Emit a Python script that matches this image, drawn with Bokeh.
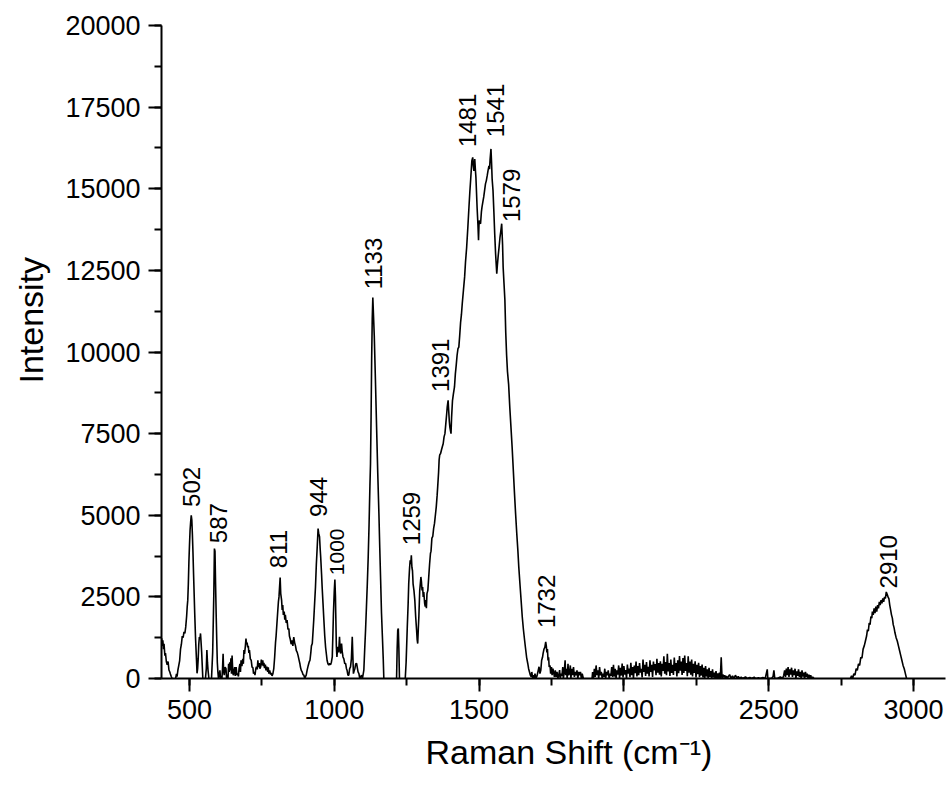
import numpy as np
from bokeh.plotting import figure
from bokeh.models import Range1d, SingleIntervalTicker, Title, ColumnDataSource, BasicTickFormatter
from bokeh.embed import file_html
from bokeh.resources import INLINE
from bokeh.core.properties import value

# ---------------- data (Raman shift [cm-1], intensity) ----------------
seg_400_800 = [
    (402, 1150), (404, 1230), (406, 1000), (408, 1170), (410, 900), (412, 1060), (415, 700), (417, 780),
    (420, 520), (423, 420), (426, 520), (429, 260), (432, 200), (434, 140), (437, 60), (440, 0), (446, -150),
    (452, 0), (455, 140), (457, 60), (460, 260), (463, 400), (466, 550), (469, 900), (472, 1050), (475, 1300),
    (478, 1250), (481, 1430), (484, 1380), (487, 1580), (490, 1900), (492, 2190), (494, 2400), (496, 2900),
    (498, 3600), (500, 4100), (502, 4550), (504, 4800), (506, 5000), (508, 4850), (510, 4400), (512, 3850),
    (514, 3200), (516, 2600), (518, 2000), (521, 1200), (524, 600), (526, 160), (528, 300), (530, 600),
    (532, 1050), (534, 1270), (536, 1200), (538, 1380), (540, 1100), (542, 800), (544, 400), (546, 0),
    (550, -150), (555, 0), (558, 300), (560, 870), (562, 500), (564, 250), (567, 0), (572, -150), (576, 0),
    (578, 400), (580, 800), (582, 1700), (584, 2600), (586, 3980), (588, 3900), (590, 2900), (592, 1990),
    (594, 1200), (596, 500), (598, 200), (600, 0), (603, 150), (605, 250), (607, 0), (610, 80), (612, 0),
    (614, 300), (616, 760), (618, 200), (620, 100), (623, 350), (626, 300), (628, 0), (631, 120), (633, 0),
    (635, 450), (637, 200), (639, 500), (641, 250), (643, 620), (645, 150), (647, 700), (649, 300), (651, 100),
    (653, 180), (656, 350), (658, 80), (661, 350), (664, 100), (667, 160), (669, 60), (671, 300), (674, 450),
    (676, 200), (678, 560), (681, 380), (684, 600), (686, 450), (688, 870), (690, 750), (693, 1000), (695, 1220),
    (697, 1050), (699, 1100), (701, 950), (703, 1000), (705, 780), (707, 870), (710, 600), (713, 560), (716, 350),
    (719, 330), (721, 150), (724, 200), (726, 100), (729, 300), (731, 360), (734, 280), (736, 560), (738, 350),
    (741, 470), (743, 300), (746, 360), (748, 580), (750, 400), (753, 560), (755, 380), (757, 480), (759, 320),
    (762, 430), (764, 250), (767, 360), (770, 200), (772, 340), (774, 150), (777, 250), (780, 120), (782, 170),
    (785, 80), (788, 150), (791, 300), (794, 650), (797, 1100), (799, 1300),
]
seg_800_1200 = [
    (802, 1700), (805, 2100), (807, 2350), (809, 2500), (811, 2800), (813, 3090), (815, 2600), (818, 2400),
    (820, 2100), (822, 2250), (824, 1950), (827, 2050), (829, 1800), (831, 1950), (834, 1700), (837, 1790),
    (840, 1500), (843, 1530), (845, 1300), (848, 1200), (851, 1050), (854, 1170), (857, 1000), (860, 1270),
    (863, 1100), (866, 1000), (869, 850), (872, 800), (875, 700), (878, 580), (881, 460), (883, 350), (886, 250),
    (889, 200), (892, 120), (895, 100), (898, 0), (900, 50), (903, 100), (906, 250), (910, 400), (913, 500),
    (916, 560), (919, 800), (921, 1000), (924, 1070), (927, 1500), (929, 1790), (932, 2300), (935, 2800),
    (938, 3500), (941, 4030), (944, 4590), (946, 4450), (949, 4340), (951, 4000), (953, 3720), (956, 3200),
    (958, 2800), (961, 2300), (964, 1790), (967, 1300), (970, 950), (973, 720), (975, 560), (978, 450),
    (981, 410), (984, 460), (987, 420), (990, 500), (993, 660), (995, 1300), (997, 1990), (1000, 2700),
    (1002, 3030), (1004, 2500), (1005, 1990), (1007, 1000), (1009, 660), (1011, 900), (1013, 970), (1015, 800),
    (1018, 1275), (1020, 900), (1022, 765), (1025, 1070), (1027, 850), (1030, 660), (1033, 600), (1036, 460),
    (1039, 460), (1042, 300), (1044, 255), (1047, 100), (1050, 100), (1053, 300), (1056, 357), (1059, 600),
    (1062, 1275), (1064, 700), (1066, 150), (1069, 250), (1071, 300), (1074, 450), (1077, 460), (1080, 300),
    (1082, 200), (1085, 150), (1088, 0), (1091, 50), (1094, 100), (1097, 0), (1100, 150), (1102, 255),
    (1105, 900), (1108, 1500), (1111, 2200), (1114, 2900), (1117, 3700), (1120, 4700), (1123, 5900),
    (1125, 6580), (1127, 8000), (1129, 9800), (1131, 11000), (1133, 11670), (1135, 11200), (1138, 10500),
    (1142, 9140), (1146, 7700), (1150, 6300), (1154, 5060), (1157, 4000), (1160, 3010), (1163, 2000),
    (1166, 1300), (1169, 600), (1171, 0), (1175, -300), (1200, -300),
]
seg_1200_1700 = [
    (1212, -200), (1215, 0), (1217, 900), (1219, 1480), (1221, 1530), (1223, 900), (1225, 0), (1228, -300),
    (1240, -200), (1245, 0), (1248, 500), (1252, 1580), (1255, 2300), (1257, 2910), (1260, 3400), (1262, 3620),
    (1264, 3500), (1266, 3775), (1268, 3400), (1270, 3300), (1272, 2900), (1275, 2700), (1278, 2400),
    (1281, 1890), (1284, 1500), (1286, 1200), (1288, 1070), (1290, 1500), (1292, 1900), (1295, 2700),
    (1297, 2900), (1299, 3110), (1301, 2950), (1303, 2700), (1305, 2800), (1307, 2500), (1309, 2650),
    (1312, 2300), (1314, 2200), (1316, 2400), (1318, 2150), (1320, 2600), (1323, 2700), (1326, 3100),
    (1329, 3500), (1332, 3830), (1334, 3900), (1337, 4300), (1340, 4350), (1343, 4600), (1346, 4750),
    (1349, 5000), (1352, 5250), (1355, 5600), (1357, 5870), (1360, 6300), (1362, 6700), (1364, 6850),
    (1367, 6890), (1370, 7000), (1373, 7100), (1376, 7190), (1379, 7400), (1382, 7500), (1385, 7800),
    (1388, 8100), (1390, 8320), (1393, 8520), (1395, 8200), (1397, 7900), (1399, 7700), (1401, 7600),
    (1403, 7500), (1405, 8000), (1408, 8500), (1411, 8700), (1415, 8930), (1418, 9330), (1421, 9600),
    (1424, 9900), (1427, 10100), (1430, 10150), (1433, 10500), (1436, 10900), (1439, 11150), (1442, 11500),
    (1446, 11900), (1450, 12300), (1453, 12750), (1457, 13200), (1461, 13800), (1465, 14440), (1468, 14900),
    (1471, 15300), (1475, 15860), (1478, 15960), (1480, 15700), (1482, 15550), (1485, 15910), (1487, 15600),
    (1489, 15350), (1491, 14900), (1493, 14440), (1496, 13900), (1498, 13420), (1500, 14030), (1503, 13950),
    (1505, 13930), (1508, 14300), (1510, 14440), (1513, 14600), (1516, 14750), (1519, 14950), (1522, 15150),
    (1525, 15250), (1528, 15400), (1531, 15560), (1534, 15700), (1536, 15600), (1538, 15900), (1541, 16220),
    (1543, 15800), (1545, 15300), (1548, 14950), (1551, 14300), (1554, 13600), (1557, 13000), (1559, 12700),
    (1561, 12400), (1563, 12650), (1566, 12950), (1569, 13210), (1572, 13500), (1575, 13700), (1578, 13930),
    (1581, 13300), (1583, 12600), (1586, 12100), (1589, 11600), (1592, 10600), (1595, 9900), (1598, 9400),
    (1602, 9000), (1606, 8300), (1610, 7700), (1614, 7090), (1618, 6400), (1622, 5700), (1626, 5050),
    (1630, 4450), (1634, 3900), (1637, 3420), (1641, 2900), (1645, 2400), (1649, 1890), (1653, 1500),
    (1657, 1180), (1660, 950), (1664, 650), (1668, 460), (1671, 300), (1674, 200), (1677, 100), (1680, 50),
    (1682, 200), (1685, 0), (1688, 100), (1690, 0), (1693, 150), (1696, 0),
]
seg_1700_2400 = [
    (1700, 80), (1703, 200), (1707, 360), (1710, 150), (1713, 250), (1716, 560), (1719, 650), (1721, 770),
    (1724, 900), (1727, 950), (1730, 1120), (1732, 1000), (1734, 800), (1736, 900), (1738, 550), (1740, 650),
    (1742, 350), (1745, 400), (1747, 150), (1750, 350), (1752, 100), (1755, 300), (1758, 150), (1760, 50),
    (1763, 250), (1766, 50), (1769, 200), (1772, 0), (1775, 100), (1778, 260), (1780, 0), (1783, 150),
    (1786, 80), (1789, 350), (1791, 0), (1794, 200), (1797, 560), (1799, 100), (1802, 300), (1804, 0),
    (1807, 450), (1809, 100), (1812, 150), (1815, 400), (1817, 0), (1820, 300), (1823, 100), (1826, 350),
    (1829, 50), (1832, 200), (1835, 100), (1838, 250), (1841, 0), (1844, 200), (1847, 100), (1850, 200),
    (1853, 0), (1856, 150), (1860, 0), (1865, -200), (1885, -200), (1890, 0), (1892, 200), (1895, 0),
    (1898, 300), (1901, 50), (1904, 400), (1907, 100), (1910, 250), (1913, 0), (1916, 350), (1919, 100),
    (1922, 200), (1925, 0), (1928, 150), (1931, 50), (1934, 300), (1937, 0), (1940, 200), (1943, 100),
    (1946, 250), (1949, 0), (1952, 150), (1955, 80), (1958, 350), (1961, 50), (1964, 420), (1967, 60),
    (1970, 300), (1973, 0), (1976, 250), (1979, 120), (1982, 400), (1985, 0), (1988, 330), (1991, 90),
    (1994, 460), (1997, 30), (2000, 380), (2003, 120), (2006, 260), (2009, 0), (2012, 430), (2015, 150),
    (2018, 300), (2021, 40), (2024, 480), (2027, 100), (2030, 350), (2033, 0), (2036, 400), (2039, 160),
    (2042, 520), (2045, 60), (2048, 380), (2051, 100), (2054, 470), (2057, 180), (2060, 300), (2063, 30),
    (2066, 580), (2069, 200), (2072, 420), (2075, 80), (2078, 500), (2081, 150), (2084, 360), (2087, 60),
    (2090, 560), (2093, 200), (2096, 420), (2099, 50), (2102, 520), (2105, 250), (2108, 440), (2111, 100),
    (2114, 600), (2117, 180), (2120, 470), (2123, 120), (2126, 530), (2129, 60), (2132, 450), (2135, 230),
    (2138, 680), (2141, 150), (2144, 500), (2147, 100), (2150, 760), (2153, 220), (2156, 470), (2159, 80),
    (2162, 580), (2165, 170), (2168, 420), (2171, 110), (2174, 640), (2177, 230), (2180, 470), (2183, 60),
    (2186, 560), (2189, 160), (2192, 690), (2195, 240), (2198, 520), (2201, 110), (2204, 630), (2207, 170),
    (2210, 700), (2213, 230), (2216, 470), (2219, 70), (2222, 680), (2225, 180), (2228, 520), (2231, 120),
    (2234, 580), (2237, 60), (2240, 450), (2243, 170), (2246, 530), (2249, 30), (2252, 420), (2255, 130),
    (2258, 480), (2261, 40), (2264, 380), (2267, 90), (2270, 430), (2273, 30), (2276, 330), (2279, 0),
    (2282, 380), (2285, 60), (2288, 280), (2291, 0), (2294, 330), (2297, 50), (2300, 230), (2303, 0),
    (2306, 280), (2309, 30), (2312, 180), (2315, 0), (2318, 230), (2321, 0), (2324, 160), (2327, 0),
    (2330, 180), (2333, 20), (2336, 650), (2339, 0), (2342, 120), (2345, 30), (2348, 100), (2351, 0),
    (2354, 80), (2357, 0), (2360, 50), (2365, 120), (2370, 0), (2375, 80), (2380, 0), (2385, 100),
    (2390, 20), (2395, 60),
]
seg_2400_3110 = [
    (2400, 0), (2405, 40), (2410, 0), (2420, 50), (2425, 0), (2435, 30), (2440, 0), (2450, 40), (2455, 0),
    (2465, 20), (2470, 0), (2480, 30), (2488, 0), (2495, 280), (2497, 0), (2505, 0), (2510, 0), (2515, 60),
    (2518, 250), (2521, 0), (2530, 0), (2540, 50), (2548, 0), (2552, 100), (2555, 250), (2558, 50),
    (2561, 300), (2564, 100), (2567, 350), (2570, 50), (2573, 280), (2576, 120), (2579, 330), (2582, 50),
    (2585, 250), (2588, 100), (2591, 300), (2594, 0), (2597, 220), (2600, 80), (2603, 280), (2606, 50),
    (2609, 200), (2612, 0), (2615, 250), (2618, 60), (2621, 180), (2624, 0), (2627, 200), (2630, 50),
    (2633, 150), (2636, 0), (2639, 120), (2642, 0), (2645, 100), (2648, 0), (2652, 50), (2656, 0),
    (2660, -200), (2775, -200), (2782, 0), (2786, 80), (2790, 0), (2794, 150), (2798, 100), (2802, 300),
    (2806, 250), (2810, 450), (2814, 400), (2818, 650), (2822, 620), (2826, 900), (2830, 1000), (2834, 1150),
    (2838, 1300), (2841, 1500), (2844, 1450), (2847, 1700), (2850, 1650), (2853, 1900), (2856, 1850),
    (2858, 2050), (2861, 1950), (2864, 2150), (2867, 2000), (2870, 2200), (2873, 2050), (2876, 2250),
    (2879, 2150), (2882, 2350), (2885, 2250), (2888, 2400), (2891, 2300), (2894, 2450), (2897, 2350),
    (2900, 2500), (2903, 2450), (2906, 2650), (2909, 2580), (2912, 2500), (2915, 2450), (2918, 2250),
    (2921, 2100), (2924, 1950), (2927, 1850), (2930, 1650), (2933, 1550), (2936, 1400), (2940, 1250),
    (2944, 1150), (2948, 1000), (2952, 850), (2956, 700), (2960, 550), (2964, 400), (2968, 300),
    (2972, 150), (2976, 0), (2980, -200), (3110, -200),
]

# peak annotations: text, anchor shift (cm-1), anchor intensity (start of the rotated text)
peak_labels = ["502", "587", "811", "944", "1000", "1133", "1259", "1391", "1481", "1541", "1579", "1732", "2910"]
peak_label_x = [506, 600, 808, 946, 1010, 1135, 1265, 1366, 1459, 1557, 1611, 1732, 2915]
peak_label_y = [5256, 4144, 3379, 4950, 3165, 11920, 4083, 8776, 16275, 16581, 13979, 1543, 2758]
peak_label_sizes = ["24px", "24px", "24px", "24px", "21px", "24px", "24px", "24px", "24px", "24px", "24px", "24px", "24px"]

x_tick_step = 500
y_tick_step = 2500

# ---------------- figure ----------------
spectrum = seg_400_800 + seg_800_1200 + seg_1200_1700 + seg_1700_2400 + seg_2400_3110
shift = [pt[0] for pt in spectrum]
intensity = [pt[1] for pt in spectrum]

FONT = "Liberation Sans"

p = figure(width=948, height=785, output_backend="svg", toolbar_location=None,
           x_range=Range1d(403.3, 3110.5), y_range=Range1d(0, 20000),
           min_border_left=161, min_border_right=3, min_border_top=25, min_border_bottom=107)
p.outline_line_color = None
p.xgrid.visible = False
p.ygrid.visible = False
p.background_fill_color = "white"
p.border_fill_color = "white"

p.line(shift, intensity, line_color="black", line_width=1.6)

src = ColumnDataSource(dict(x=peak_label_x, y=peak_label_y, text=peak_labels, fs=peak_label_sizes))
p.text(x="x", y="y", text="text", source=src, angle=np.pi / 2, text_align="left",
       text_baseline="middle", text_font=value(FONT), text_font_size="fs", text_color="black")

p.xaxis.ticker = SingleIntervalTicker(interval=x_tick_step, num_minor_ticks=2)
p.yaxis.ticker = SingleIntervalTicker(interval=y_tick_step, num_minor_ticks=2)
p.yaxis.formatter = BasicTickFormatter(use_scientific=False)

for ax in (p.xaxis[0], p.yaxis[0]):
    ax.axis_line_color = "black"
    ax.axis_line_width = 2
    ax.major_tick_line_color = "black"
    ax.minor_tick_line_color = "black"
    ax.major_tick_line_width = 2
    ax.minor_tick_line_width = 2
    ax.major_tick_out = 13
    ax.major_tick_in = 0
    ax.minor_tick_out = 7
    ax.minor_tick_in = 0
    ax.major_label_text_font = FONT
    ax.major_label_text_font_size = "27px"
    ax.major_label_text_color = "black"
    ax.major_label_standoff = 8

p.add_layout(Title(text="Raman Shift (cm\u207b\u00b9)", align="left", offset=264, standoff=18,
                   vertical_align="bottom",
                   text_font=FONT, text_font_size="34px", text_font_style="normal", text_color="black"), "below")
p.add_layout(Title(text="Intensity", align="left", offset=295, standoff=22, vertical_align="top",
                   text_font=FONT, text_font_size="34px", text_font_style="normal", text_color="black"), "left")

open("out.html", "w").write(file_html(p, INLINE))
